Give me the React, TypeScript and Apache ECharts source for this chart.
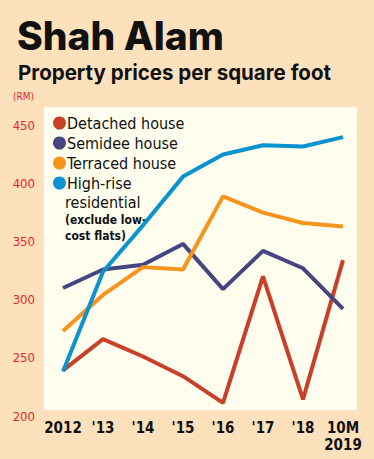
import React, { useEffect, useRef } from "react";
import * as echarts from "echarts";

const categories = ["2012", "'13", "'14", "'15", "'16", "'17", "'18", "10M\n2019"];
const detached = [235, 262, 247, 230, 207, 316, 210, 330];
const semidee = [306, 322, 326, 344, 305, 338, 323, 288];
const terraced = [269, 300, 324, 322, 385, 371, 362, 359];
const highRise = [234, 320, 360, 402, 421, 429, 428, 436];
const seriesNames = ["Detached house", "Semidee house", "Terraced house", "High-rise"];
const seriesColors = ["#C9402A", "#45467F", "#F7941D", "#0B93D0"];

const cond = "'DejaVu Sans Condensed', 'DejaVu Sans', sans-serif";

export default function App() {
  const ref = useRef<HTMLDivElement>(null);
  useEffect(() => {
    if (!ref.current) return;
    const chart = echarts.init(ref.current, null, { renderer: "svg" });
    const data = [detached, semidee, terraced, highRise];
    chart.setOption({
      animation: false,
      backgroundColor: "#FDE1BD",
      grid: { left: 63, right: 31, top: 107, bottom: 48 },
      graphic: [
        { type: "rect", z: -10, shape: { x: 44, y: 107, width: 313, height: 303 }, style: { fill: "#FFFDEE" } },
        { type: "text", left: 17, top: 16, style: { text: "Shah Alam", font: "800 39px Inter, 'Open Sans', sans-serif", fill: "#111" } },
        { type: "text", left: 18, top: 62, style: { text: "Property prices per square foot", font: "700 20.5px Inter, 'Open Sans', sans-serif", fill: "#111" } },
        { type: "text", left: 13, top: 91, style: { text: "(RM)", font: "400 10px " + cond, fill: "#E8262A" } },
        { type: "text", left: 65, top: 194, style: { text: "residential", font: "400 16px " + cond, fill: "#111" } },
        { type: "text", left: 65, top: 212, style: { text: "(exclude low-\ncost flats)", font: "700 12px " + cond, fill: "#111", lineHeight: 16 } },
      ],
      legend: {
        orient: "vertical",
        left: 48,
        top: 109,
        icon: "circle",
        itemWidth: 13,
        itemHeight: 13,
        itemGap: 2,
        data: seriesNames,
        textStyle: { fontFamily: cond, fontSize: 16, color: "#111", lineHeight: 18, padding: [0, 0, 0, -4] },
      },
      xAxis: {
        type: "category",
        data: categories,
        boundaryGap: false,
        axisLine: { show: false },
        axisTick: { show: false },
        splitLine: { show: false },
        axisLabel: { fontFamily: cond, fontWeight: "bold", fontSize: 15, color: "#111", margin: 8, lineHeight: 17, interval: 0 },
      },
      yAxis: {
        type: "value",
        min: 200,
        max: 462,
        interval: 50,
        axisLine: { show: false },
        axisTick: { show: false },
        splitLine: { show: false },
        axisLabel: { fontFamily: cond, fontSize: 13, color: "#E8262A", margin: 28, showMaxLabel: false, verticalAlign: "top", lineHeight: 10 },
      },
      series: data.map((d, i) => ({
        name: seriesNames[i],
        type: "line",
        data: d,
        symbol: "none",
        lineStyle: { width: 4, color: seriesColors[i] },
        itemStyle: { color: seriesColors[i] },
      })),
    });
    return () => chart.dispose();
  }, []);
  return <div ref={ref} style={{ width: 374, height: 459, position: "absolute", left: 0, top: 0 }} />;
}
